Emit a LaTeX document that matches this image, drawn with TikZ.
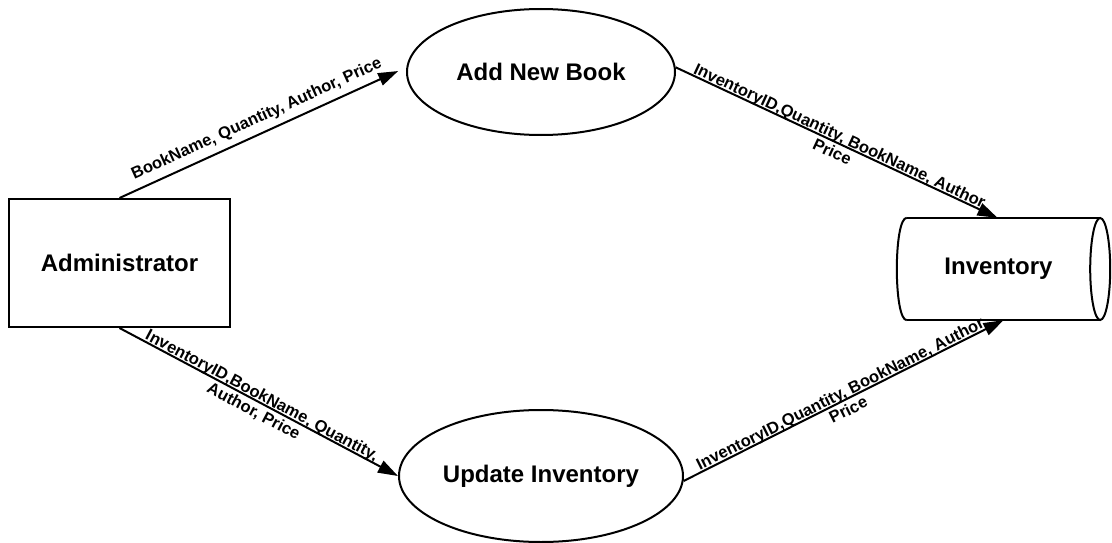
\documentclass[tikz,border=0pt]{standalone}
\usepackage{fontspec}
\setmainfont{Liberation Sans}
\usetikzlibrary{shapes.geometric,arrows.meta,calc}
\tikzset{
  bigtxt/.style={font=\fontsize{24}{28}\selectfont\bfseries},
  boxnode/.style={draw, line width=2pt, rectangle, inner sep=0pt, bigtxt},
  procnode/.style={draw, line width=2pt, ellipse, inner sep=0pt, bigtxt},
  flow/.style={line width=2pt, -{Triangle[length=20pt,width=13pt]}},
  flowlbl/.style={font=\fontsize{16.5}{18}\selectfont\bfseries, inner sep=0pt, sloped, midway},
  twolbl/.style={flowlbl, align=center, anchor=north, yshift=15pt},
  onelbl/.style={flowlbl, above=6pt}
}
\begin{document}
\begin{tikzpicture}[x=1pt,y=-1pt]
\useasboundingbox (0,0) rectangle (1112,543);

\node[boxnode, minimum width=221pt, minimum height=128pt] (admin) at (119.5,263) {Administrator};
\node[procnode, minimum width=268pt, minimum height=126pt] (add) at (541,72) {Add New Book};
\node[procnode, minimum width=284pt, minimum height=132pt] (upd) at (541,476) {Update Inventory};
\node[rectangle, inner sep=0pt, minimum width=193pt, minimum height=102pt, bigtxt] (inv) at (1003.5,269) {Inventory\hspace*{10pt}};

% cylinder outline
\draw[line width=2pt] (inv.north west) -- (inv.north east);
\draw[line width=2pt] (inv.south west) -- (inv.south east);
\draw[line width=2pt] (inv.north west) .. controls +(-13.3,0) and +(-13.3,0) .. (inv.south west);
\draw[line width=2pt] ($(inv.north east)!0.5!(inv.south east)$) ellipse [x radius=10, y radius=51];

\draw[flow, shorten >=9pt] (admin.north) -- (add.178)
  node[onelbl] {BookName, Quantity, Author, Price};
\draw[flow] (add.2) -- ($(inv.north)+(-6,0)$)
  node[twolbl] {InventoryID,Quantity, BookName, Author\\Price};
\draw[flow] (admin.south) -- (upd.west)
  node[twolbl] {InventoryID,BookName, Quantity,\\Author, Price};
\draw[flow] (upd.-2) -- (inv.south)
  node[twolbl] {InventoryID,Quantity, BookName, Author\\Price};
\end{tikzpicture}
\end{document}
